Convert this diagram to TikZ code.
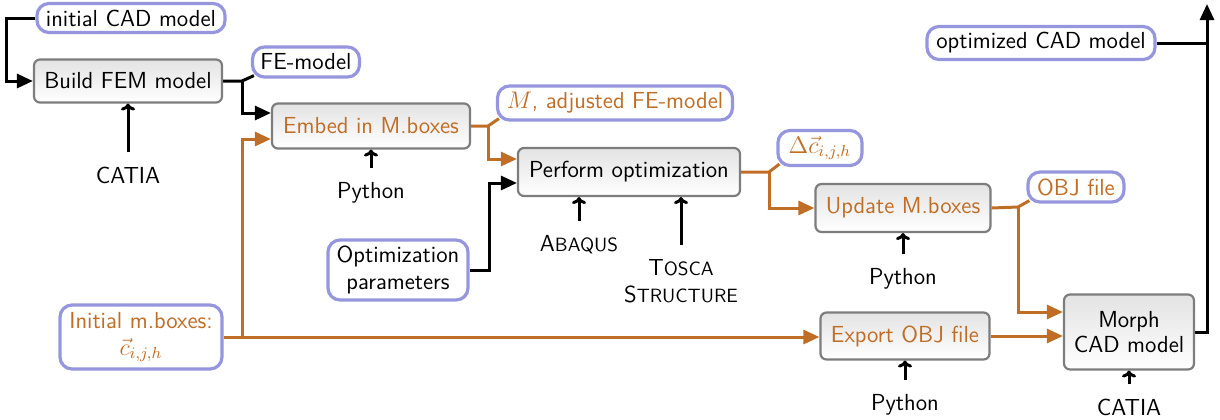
\documentclass[tikz,border=0pt]{standalone}
\usepackage{fontspec}
\renewcommand{\familydefault}{\sfdefault}
\usetikzlibrary{arrows.meta,calc,positioning}
\pgfdeclarelayer{bg}
\pgfsetlayers{bg,main}
\definecolor{orng}{RGB}{192,110,38}
\definecolor{lav}{RGB}{150,150,222}
\definecolor{bordergray}{RGB}{125,125,125}
\newcommand{\scx}[2]{#1{\fontsize{9.6}{11}\selectfont #2}}
\tikzset{
  procbox/.style={draw=bordergray, line width=1.1pt, rounded corners=3pt,
    top color=gray!22, bottom color=white, inner sep=1pt, align=center,
    font=\fontsize{11.6}{13.5}\selectfont},
  lbl/.style={draw=lav, line width=1.6pt, rounded corners=6pt, fill=white,
    inner sep=1pt, align=center, font=\fontsize{11.6}{13.5}\selectfont},
  tool/.style={inner sep=1pt, align=center, font=\fontsize{11.6}{13.5}\selectfont},
  blk/.style={line width=1.5pt, black},
  org/.style={line width=1.5pt, orng},
  tri/.style={-{Triangle[length=8pt,width=7pt]}},
  up/.style={line width=1.5pt, -{To[length=3.5pt,width=7pt]}, shorten <=6pt},
}
\begin{document}
\begin{tikzpicture}[x=0.5pt,y=-0.5pt]
\useasboundingbox (0,0) rectangle (1220,419);
% process boxes
\node[procbox, minimum width=94pt, minimum height=21.5pt] (build) at (128,81) {Build FEM model};
\node[procbox, minimum width=99pt, minimum height=22.5pt, text=orng] (embed) at (371,126) {Embed in M.boxes};
\node[procbox, minimum width=111pt, minimum height=24pt] (perform) at (629,172) {Perform optimization};
\node[procbox, minimum width=87.5pt, minimum height=24pt, text=orng] (update) at (903,208) {Update M.boxes};
\node[procbox, minimum width=84.5pt, minimum height=23.5pt, text=orng] (export) at (905,336) {Export OBJ file};
\node[procbox, minimum width=65pt, minimum height=37.5pt] (morph) at (1129,332) {Morph\\[-1pt]CAD model};
% data labels
\node[lbl, minimum width=94pt, minimum height=14.5pt] (initcad) at (131,18) {initial CAD model};
\node[lbl, minimum width=53.5pt, minimum height=15pt] (femodel) at (306,62) {FE-model};
\node[lbl, minimum width=117.5pt, minimum height=17pt, text=orng] (adjusted) at (615,103) {$M$, adjusted FE-model};
\node[lbl, minimum width=42pt, minimum height=17.5pt, text=orng] (delta) at (820,148) {$\Delta\vec{c}_{i,j,h}$};
\node[lbl, minimum width=48pt, minimum height=15pt, text=orng] (objfile) at (1076,187) {OBJ file};
\node[lbl, minimum width=114pt, minimum height=16.5pt] (optcad) at (1041,43) {optimized CAD model};
\node[lbl, minimum width=70pt, minimum height=30pt] (optparams) at (398,270) {Optimization\\parameters};
\node[lbl, minimum width=81pt, minimum height=32pt, text=orng] (initmb) at (141,337) {Initial m.boxes:\\$\vec{c}_{i,j,h}$};
% tools
\node[tool] (catia1) at (128,175) {CATIA};
\node[tool] (python1) at (371,193) {Python};
\node[tool] (abaqus) at (579,245) {\scx{A}{BAQUS}};
\node[tool] (tosca) at (681,281) {\scx{T}{OSCA}\\\scx{S}{TRUCTURE}};
\node[tool] (python2) at (903,279) {Python};
\node[tool] (python3) at (905,405) {Python};
\node[tool] (catia2) at (1129,407) {CATIA};
% junctions
\coordinate (j1) at (242,81);
\coordinate (j2) at (242,337);
\coordinate (j3) at (488,126);
\coordinate (j4) at (489,270);
\coordinate (j5) at (769,172);
\coordinate (j6) at (1018,207);
\coordinate (j7) at (1207,332);
\coordinate (j8) at (1207,43);
\coordinate (top) at (1207,4);
\begin{pgfonlayer}{bg}
% black flow
\draw[blk,tri] (initcad.west) -- ++(-29,0) |- (build.west);
\draw[blk] (build.east) -- (j1) -- ($(femodel.south west)+(3,-3)$);
\draw[blk,tri] (j1) |- ($(embed.west)+(0,-13)$);
\draw[blk,tri] (optparams.east) -- (j4) |- ($(perform.west)+(0,11)$);
\draw[blk,tri] (morph.east) -- (j7) -- (top);
\draw[blk] (optcad.east) -- (j8);
% orange flow
\draw[org,tri] (initmb.east) -- (export.west |- initmb.east);
\draw[org,tri] (j2) |- ($(embed.west)+(0,13)$);
\draw[org] (embed.east) -- (j3) -- ($(adjusted.south west)+(3,-3)$);
\draw[org,tri] (j3) |- ($(perform.west)+(0,-13)$);
\draw[org] (perform.east) -- (j5) -- ($(delta.south west)+(3,-3)$);
\draw[org,tri] (j5) |- (update.west);
\draw[org] (update.east) -- (j6) -- ($(objfile.south west)+(3,-3)$);
\draw[org,tri] (j6) |- ($(morph.west)+(0,-20)$);
\draw[org,tri] (export.east) -- (export.east -| morph.west);
\end{pgfonlayer}
% tool arrows
\draw[up] (catia1.north) -- (build.south);
\draw[up] (python1.north) -- (embed.south);
\draw[up] (abaqus.north) -- (abaqus.north |- perform.south);
\draw[up] (tosca.north) -- (tosca.north |- perform.south);
\draw[up] (python2.north) -- (update.south);
\draw[up] (python3.north) -- (export.south);
\draw[up] (catia2.north) -- (morph.south);
\end{tikzpicture}
\end{document}
